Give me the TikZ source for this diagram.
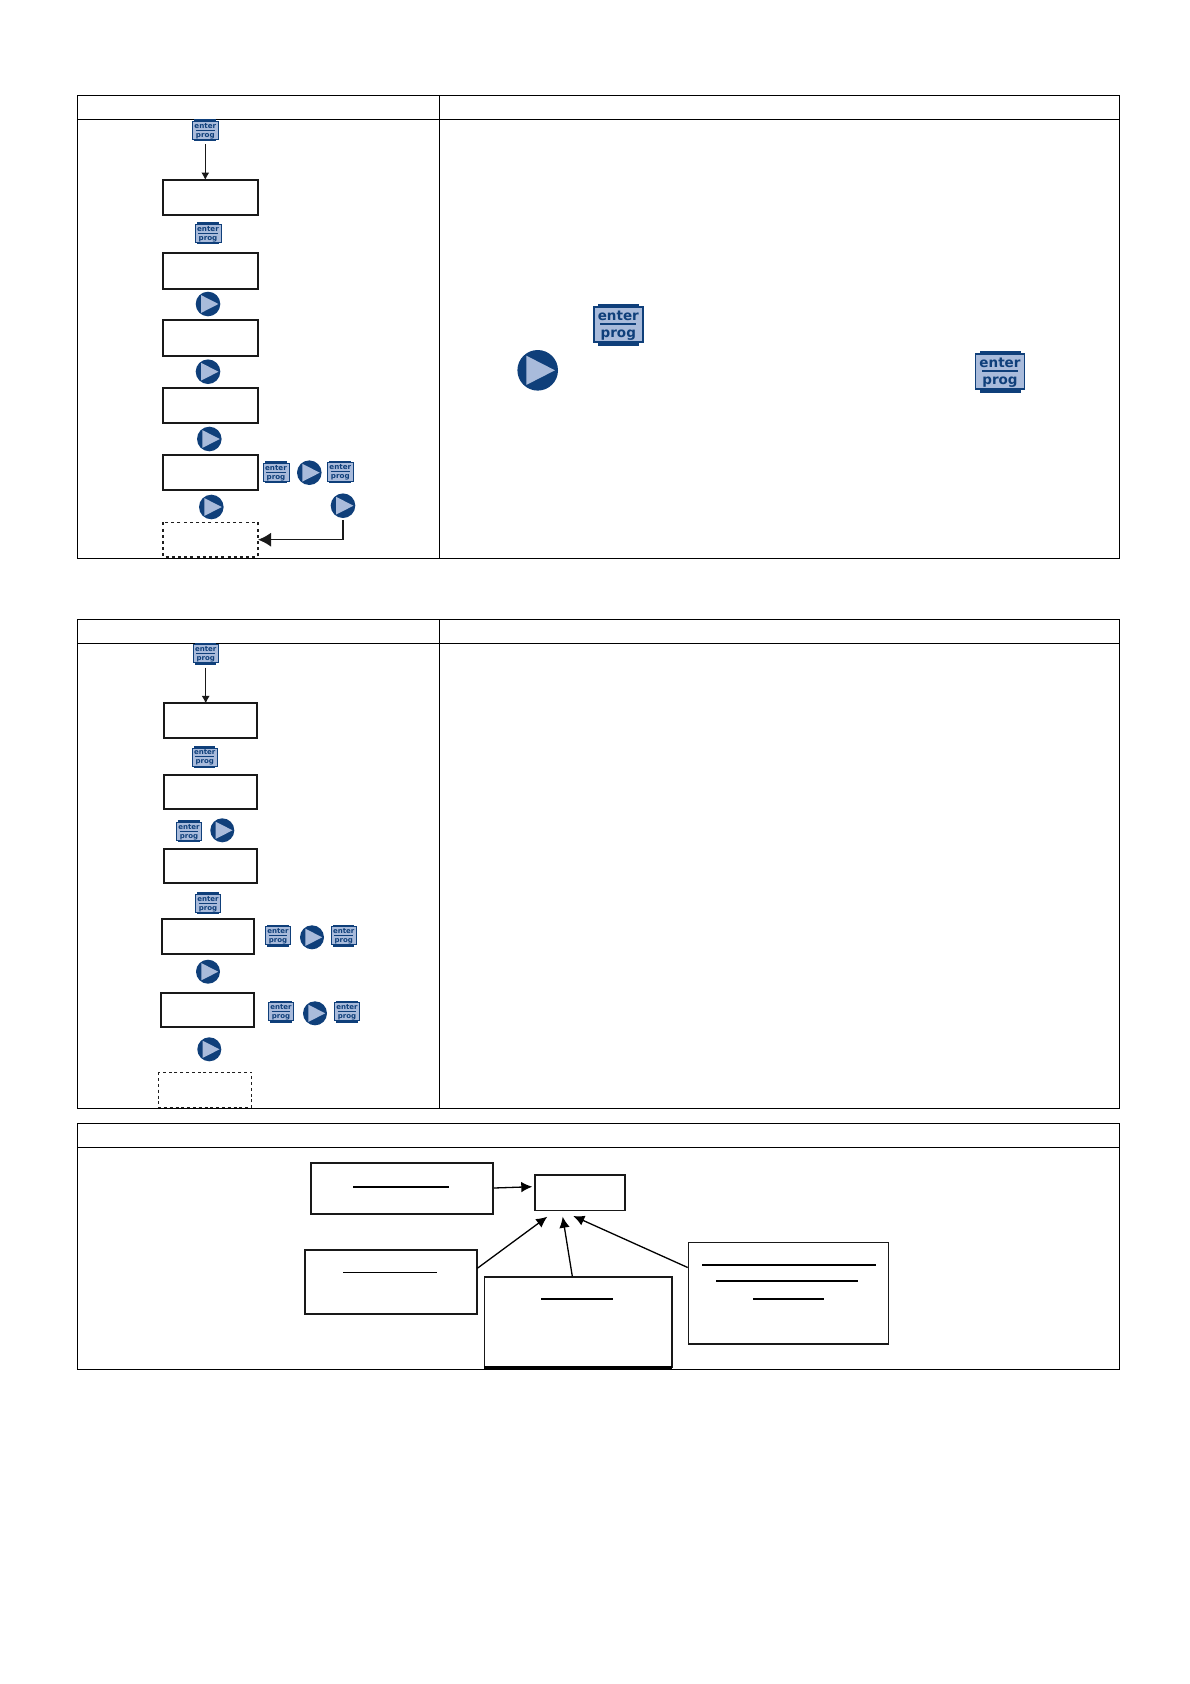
\documentclass[tikz,border=0pt]{standalone}
\usepackage{fontspec}
\setmainfont{DejaVu Sans}
\usetikzlibrary{arrows.meta,calc}
\definecolor{btndark}{HTML}{0F3F7A}
\definecolor{btnlight}{HTML}{A9BBDB}
\tikzset{
  x=1pt,y=-1pt,
  grid/.style={draw=black,line width=0.9pt},
  flowbox/.style={draw=black!90,line width=1.9pt,fill=white},
  thinbox/.style={draw=black!90,line width=1.4pt,fill=white},
  dashbox/.style={draw=black!88,line width=1.6pt,dash pattern=on 3pt off 3.2pt},
  dashthin/.style={draw=black!88,line width=0.9pt,dash pattern=on 3pt off 2.8pt},
  rule/.style={draw=black,line width=1.7pt},
  conn/.style={draw=black!90,line width=1pt,-{Latex[length=7.5pt,width=8pt]}},
  bigconn/.style={draw=black!90,line width=1.4pt,-{Latex[length=13pt,width=14pt]}},
  diagconn/.style={draw=black,line width=1.3pt,-{Latex[length=11pt,width=10.5pt]}},
}
% rectangle given by its corners: name, x0, y0, x1, y1, style
\newcommand{\boxat}[6]{%
  \path[#6] (#2,#3) rectangle (#4,#5);
  \coordinate (#1-nw) at (#2,#3);
  \coordinate (#1-se) at (#4,#5);
  \coordinate (#1-n) at ($(#2,#3)!.5!(#4,#3)$);
  \coordinate (#1-e) at ($(#4,#3)!.5!(#4,#5)$);
}
% enter/prog button: name, x, y, scale
\newcommand{\enterbtn}[4]{%
  \begin{scope}[shift={(#2,#3)},scale=#4]
    \fill[btndark] (-20.5,-21) rectangle (20.5,21);
    \fill[btnlight,draw=btndark,line width=#4*1.5pt] (-24.5,-17.5) rectangle (24.5,17.5);
    \draw[btndark,line width=#4*2pt] (-18,-0.4) -- (18,-0.4);
    \node[text=btndark,font=\bfseries,inner sep=0pt,anchor=base,transform shape] at (0,-4) {\fontsize{13.5}{14}\selectfont enter};
    \node[text=btndark,font=\bfseries,inner sep=0pt,anchor=base,transform shape] at (0,13) {\fontsize{13.5}{14}\selectfont prog};
    \coordinate (#1) at (0,0);
    \coordinate (#1-s) at (0,21);
  \end{scope}
}
% play button: name, x, y, radius
\newcommand{\playbtn}[4]{%
  \fill[btndark] (#2,#3) circle[radius=#4];
  \fill[btnlight] ($(#2,#3)+(-.56*#4,-.72*#4)$) -- ($(#2,#3)+(.85*#4,0)$) -- ($(#2,#3)+(-.56*#4,.72*#4)$) -- cycle;
  \coordinate (#1) at (#2,#3);
  \coordinate (#1-s) at ($(#2,#3)+(0,#4+2)$);
}
\begin{document}
\begin{tikzpicture}
\useasboundingbox (0,0) rectangle (1190,1684);
\fill[white] (0,0) rectangle (1190,1684);
% --- table 1
\draw[grid] (77.3,95.3) rectangle (1119.5,558.3);
\draw[grid] (77.3,119.3) -- (1119.5,119.3);
\draw[grid] (439.3,95.3) -- (439.3,558.3);
% --- table 2
\draw[grid] (77.3,619.3) rectangle (1119.5,1108.7);
\draw[grid] (77.3,643.3) -- (1119.5,643.3);
\draw[grid] (439.3,619.3) -- (439.3,1108.7);
% --- table 3
\draw[grid] (77.3,1123.4) rectangle (1119.5,1369.3);
\draw[grid] (77.3,1147.3) -- (1119.5,1147.3);

% --- flow 1
\boxat{a1}{163}{180}{258}{215}{flowbox}
\boxat{a2}{163}{253.4}{258}{288.6}{flowbox}
\boxat{a3}{163}{320.4}{258}{355.6}{flowbox}
\boxat{a4}{163}{388}{258}{423}{flowbox}
\boxat{a5}{163}{455.4}{258}{490}{flowbox}
\boxat{a6}{163}{522.4}{258}{557}{dashbox}
\enterbtn{ea1}{205.3}{130.3}{.53}
\enterbtn{ea2}{208}{233.3}{.53}
\playbtn{pa1}{208}{304}{12.3}
\playbtn{pa2}{208}{371.7}{12.3}
\playbtn{pa3}{209.3}{439}{12.3}
\enterbtn{ea3}{276}{472.3}{.53}
\playbtn{pa4}{309.3}{472.7}{12.3}
\enterbtn{ea4}{340.3}{472}{.53}
\playbtn{pa5}{211.3}{507}{12.3}
\playbtn{pa6}{343}{505.7}{12.3}
\draw[conn] ($(ea1-s)+(0,3)$) -- (ea1-s |- a1-n);
\draw[bigconn] (pa6-s) |- (a6-e);

% --- big icons in the right column
\enterbtn{eb1}{618.3}{324.7}{1}
\playbtn{pb1}{537.7}{370.3}{20.3}
\enterbtn{eb2}{1000}{371.6}{1}

% --- flow 2
\boxat{c1}{164.4}{703.4}{257}{737.6}{flowbox}
\boxat{c2}{164.4}{775}{257}{808.6}{flowbox}
\boxat{c3}{164.4}{849.4}{257}{883}{flowbox}
\boxat{c4}{162}{919.4}{254}{953.6}{flowbox}
\boxat{c5}{161}{993}{254}{1027}{flowbox}
\boxat{c6}{158.3}{1072.3}{251.7}{1107.3}{dashthin}
\enterbtn{ec1}{205.7}{653.7}{.52}
\enterbtn{ec2}{204.7}{757}{.52}
\enterbtn{ec3}{189}{831.3}{.52}
\playbtn{pc1}{222.3}{830.3}{12}
\enterbtn{ec4}{208}{903.3}{.52}
\enterbtn{ec5}{278}{935.7}{.52}
\playbtn{pc2}{312}{937.3}{12}
\enterbtn{ec6}{343.7}{935.7}{.52}
\playbtn{pc3}{208}{971.7}{12}
\enterbtn{ec7}{281}{1011.7}{.52}
\playbtn{pc4}{315}{1013.3}{12}
\enterbtn{ec8}{347}{1011.7}{.52}
\playbtn{pc5}{209.3}{1049.3}{12}
\draw[conn] ($(ec1-s)+(0,3)$) -- (ec1-s |- c1-n);

% --- diagram in table 3
\boxat{dA}{311.4}{1163.4}{493.4}{1214.3}{flowbox}
\boxat{dB}{534.8}{1174.9}{624.8}{1210.3}{thinbox}
\boxat{dC}{305.4}{1250.4}{476.6}{1314.3}{flowbox}
\boxat{dD}{484.4}{1276.8}{671.8}{1367.6}{thinbox}
\boxat{dE}{688.3}{1242.2}{888.7}{1343.8}{thinbox}
\coordinate (dAo) at (494,1188);
\coordinate (dBa) at (532.3,1186.7);
\coordinate (dCo) at (477.3,1268.3);
\coordinate (dBc) at (547.3,1216.7);
\coordinate (dDo) at (572.3,1276.3);
\coordinate (dBd) at (562.7,1216.7);
\coordinate (dEo) at (687.7,1267.5);
\coordinate (dBe) at (573.3,1216);
\draw[diagconn] (dAo) -- (dBa);
\draw[diagconn] (dCo) -- (dBc);
\draw[diagconn] (dDo) -- (dBd);
\draw[diagconn] (dEo) -- (dBe);
\draw[rule,line width=2.4pt] (484,1367.6) -- (672.3,1367.6);
\draw[rule] (353,1187) -- (449,1187);
\draw[rule,line width=.9pt] (343,1272.3) -- (437,1272.3);
\draw[rule] (541,1299) -- (613,1299);
\draw[rule] (702,1265) -- (876,1265);
\draw[rule] (716,1281) -- (858,1281);
\draw[rule] (753,1299) -- (824,1299);
\end{tikzpicture}
\end{document}
